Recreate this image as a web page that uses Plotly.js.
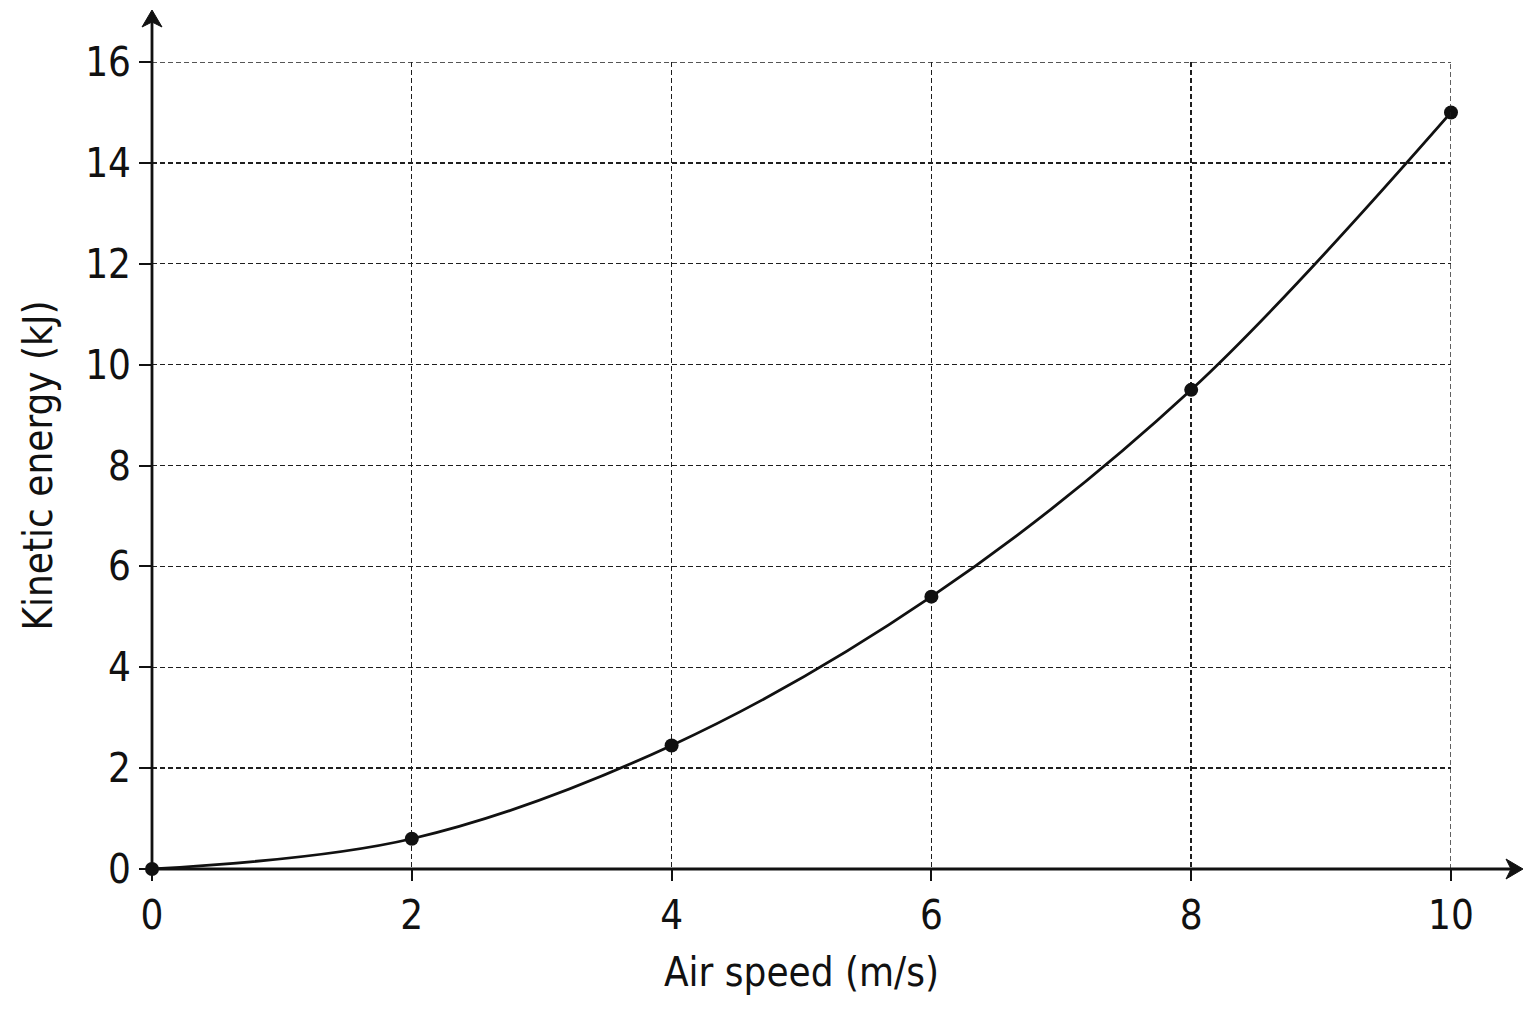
<!DOCTYPE html>
<html><head><meta charset="utf-8">
<script src="https://cdn.plot.ly/plotly-3.0.1.min.js"></script>
<style>body{margin:0;background:#fff}#c{width:1536px;height:1024px}</style>
</head><body><div id="c"></div>
<script>
const airSpeed = [0, 2, 4, 6, 8, 10];
const kineticEnergy = [0, 0.6, 2.45, 5.4, 9.5, 15];
const xTicks = [0, 2, 4, 6, 8, 10];
const yTicks = [0, 2, 4, 6, 8, 10, 12, 14, 16];
const xTitle = 'Air speed (m/s)';
const yTitle = 'Kinetic energy (kJ)';

const font = '"DejaVu Sans Condensed", "Liberation Sans Narrow", sans-serif';
const L = 152, R = 85, T = 62, B = 155, W = 1536, H = 1024;
const pw = W - L - R, ph = H - T - B;
const px = v => (v - L) / pw;          // pixel -> paper x
const py = v => (H - B - v) / ph;      // pixel -> paper y
const gridDash = '5px,3px';
const gridColor = '#1e1e1e';
const gridW = 1.4;

const trace = {
  x: airSpeed, y: kineticEnergy, mode: 'lines+markers', type: 'scatter',
  line: {shape: 'spline', smoothing: 1.0, color: '#111', width: 2.8},
  marker: {size: 14, color: '#111'}, cliponaxis: false, hoverinfo: 'none'
};

const xMax = xTicks[xTicks.length - 1], yMax = yTicks[yTicks.length - 1];

const layout = {
  width: W, height: H, margin: {l: L, r: R, t: T, b: B},
  paper_bgcolor: '#fff', plot_bgcolor: '#fff', showlegend: false,
  font: {family: font, color: '#111', size: 40},
  xaxis: {
    range: [0, xMax], tickvals: xTicks, ticktext: xTicks.map(String),
    showgrid: true, gridcolor: gridColor, griddash: gridDash, gridwidth: gridW,
    zeroline: false, showline: false, ticks: 'outside', ticklen: 11, tickwidth: 2, tickcolor: '#111',
    tickfont: {family: font, size: 40, color: '#111'},
    title: {text: xTitle, font: {family: font, size: 40, color: '#111'}, standoff: 20}
  },
  yaxis: {
    range: [0, yMax], tickvals: yTicks, ticktext: yTicks.map(String),
    showgrid: true, gridcolor: gridColor, griddash: gridDash, gridwidth: gridW,
    zeroline: false, showline: false, ticks: 'outside', ticklen: 12, tickwidth: 2, tickcolor: '#111',
    tickfont: {family: font, size: 40, color: '#111'},
    title: {text: yTitle, font: {family: font, size: 40, color: '#111'}, standoff: 20}
  },
  shapes: [
    {type: 'line', xref: 'x', yref: 'y', x0: 0, x1: xMax, y0: yMax, y1: yMax, line: {color: gridColor, width: gridW, dash: gridDash}},
    {type: 'line', xref: 'x', yref: 'y', x0: xMax, x1: xMax, y0: 0, y1: yMax, line: {color: gridColor, width: gridW, dash: gridDash}},
    {type: 'line', xref: 'paper', yref: 'paper', x0: 0, x1: px(1512), y0: 0, y1: 0, line: {color: '#111', width: 2.8}},
    {type: 'line', xref: 'paper', yref: 'paper', x0: 0, x1: 0, y0: 0, y1: py(20), line: {color: '#111', width: 2.8}},
    {type: 'path', xref: 'paper', yref: 'paper', fillcolor: '#111', line: {color: '#111', width: 1},
     path: `M ${px(1523)} ${py(869)} L ${px(1506)} ${py(859)} L ${px(1511)} ${py(869)} L ${px(1506)} ${py(879)} Z`},
    {type: 'path', xref: 'paper', yref: 'paper', fillcolor: '#111', line: {color: '#111', width: 1},
     path: `M ${px(152)} ${py(10)} L ${px(142)} ${py(27)} L ${px(152)} ${py(22)} L ${px(162)} ${py(27)} Z`}
  ]
};
Plotly.newPlot('c', [trace], layout, {staticPlot: true});
</script></body></html>
